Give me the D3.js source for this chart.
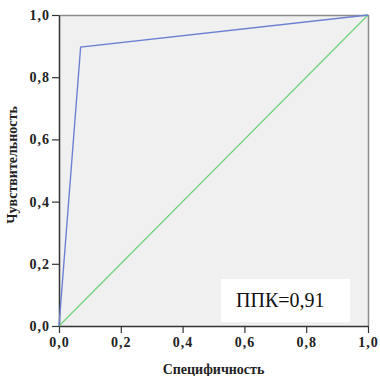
<!DOCTYPE html>
<html>
<head>
<meta charset="utf-8">
<script src="https://cdn.jsdelivr.net/npm/d3@7/dist/d3.min.js"></script>
<style>
  body { margin: 0; background: #fff; }
  text { font-family: "Liberation Serif", "DejaVu Serif", serif; }
</style>
</head>
<body>
<script>
// ROC curve points (1 - specificity, sensitivity)
var rocX = [0, 0.07, 1];
var rocY = [0, 0.897, 1];
// reference diagonal
var refX = [0, 1];
var refY = [0, 1];
var ticks = [0, 0.2, 0.4, 0.6, 0.8, 1.0];
var xTitle = "Специфичность";
var yTitle = "Чувствительность";
var aucLabel = "ППК=0,91";

var width = 380, height = 376;
var pLeft = 59, pRight = 368, pTop = 15, pBottom = 326;

var svg = d3.select("body").append("svg")
    .attr("width", width)
    .attr("height", height);

var xScale = d3.scaleLinear().domain([0, 1]).range([pLeft, pRight]);
var yScale = d3.scaleLinear().domain([0, 1]).range([pBottom, pTop]);

// plot background
svg.append("rect")
    .attr("x", pLeft).attr("y", pTop)
    .attr("width", pRight - pLeft).attr("height", pBottom - pTop)
    .attr("fill", "#f0f0f0");

// top and right frame
svg.append("path")
    .attr("d", "M" + pLeft + "," + (pTop + 0.5) + "H" + (pRight + 0.5) + "V" + pBottom)
    .attr("fill", "none")
    .attr("stroke", "#8c8c8c")
    .attr("stroke-width", 1.5);

var fmt = function (d) { return d3.format(".1f")(d).replace(".", ","); };

var xAxis = d3.axisBottom(xScale).tickValues(ticks).tickFormat(fmt).tickSize(7).tickSizeOuter(0);
var yAxis = d3.axisLeft(yScale).tickValues(ticks).tickFormat(fmt).tickSize(7).tickSizeOuter(0);

var gx = svg.append("g")
    .attr("transform", "translate(0," + pBottom + ")")
    .call(xAxis);
var gy = svg.append("g")
    .attr("transform", "translate(" + pLeft + ",0)")
    .call(yAxis);

[gx, gy].forEach(function (g) {
    g.selectAll(".domain").attr("stroke", "#333").attr("stroke-width", 1.5);
    g.selectAll(".tick line").attr("stroke", "#333").attr("stroke-width", 1.2);
    g.selectAll(".tick text")
        .attr("fill", "#222")
        .style("font-family", "'Liberation Serif', serif")
        .style("font-size", "14px")
        .style("font-weight", "bold")
        .style("letter-spacing", "1px");
});
gx.selectAll(".tick text").attr("dy", "0.9em").attr("y", 8);
gy.selectAll(".tick text").attr("x", -9);

// reference line
var line = d3.line()
    .x(function (d) { return xScale(d[0]); })
    .y(function (d) { return yScale(d[1]); });

svg.append("path")
    .datum(d3.zip(refX, refY))
    .attr("d", line)
    .attr("fill", "none")
    .attr("stroke", "#6fd27c")
    .attr("stroke-width", 1.2);

svg.append("path")
    .datum(d3.zip(rocX, rocY))
    .attr("d", line)
    .attr("fill", "none")
    .attr("stroke", "#6c80d2")
    .attr("stroke-width", 1.4);

// AUC label box
svg.append("rect")
    .attr("x", 221).attr("y", 279)
    .attr("width", 129).attr("height", 43)
    .attr("fill", "#fff");
svg.append("text")
    .attr("x", 236).attr("y", 307)
    .attr("fill", "#111")
    .style("font-size", "20px")
    .text(aucLabel);

// axis titles
svg.append("text")
    .attr("x", (pLeft + pRight) / 2).attr("y", 374)
    .attr("text-anchor", "middle")
    .attr("fill", "#222")
    .style("font-size", "14px")
    .style("font-weight", "bold")
    .text(xTitle);

svg.append("text")
    .attr("transform", "translate(17,165) rotate(-90)")
    .attr("text-anchor", "middle")
    .attr("fill", "#222")
    .style("font-size", "14px")
    .style("font-weight", "bold")
    .text(yTitle);
</script>
</body>
</html>
